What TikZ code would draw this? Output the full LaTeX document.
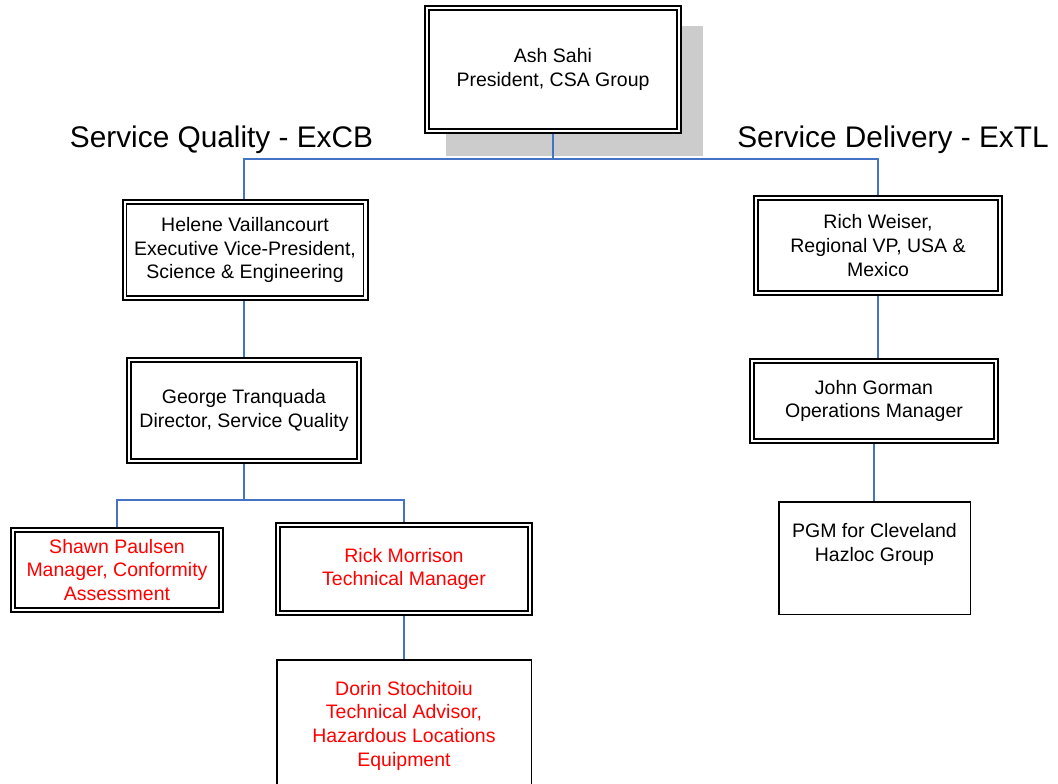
\documentclass[tikz,border=0pt]{standalone}
\usepackage{fontspec}
\setmainfont{Liberation Sans}
\definecolor{conn}{RGB}{68,114,196}
\definecolor{shadowgray}{RGB}{204,204,204}
\definecolor{redtext}{RGB}{255,0,0}
\newcommand{\boxfont}{\fontsize{19.5}{23.7}\selectfont}
\newcommand{\headfont}{\fontsize{29.8}{34}\selectfont}
\begin{document}
\begin{tikzpicture}[x=1pt,y=-1pt,
  dbox/.style={draw=black, line width=2pt, fill=white, align=center, inner sep=0pt, font=\boxfont,
    path picture={\draw[black, line width=1.1pt]
      ([shift={(4pt,-4pt)}]path picture bounding box.north west) rectangle
      ([shift={(-4pt,4pt)}]path picture bounding box.south east);}},
  sbox/.style={draw=black, line width=1.5pt, fill=white, align=center, inner sep=0pt, font=\boxfont},
  conline/.style={draw=conn, line width=1.4pt},
  heading/.style={font=\headfont, anchor=base, inner sep=0pt},
  redt/.style={text=redtext}]
\useasboundingbox (0,0) rectangle (1058,784);
% shadow of the top box
\fill[shadowgray] (446,26) rectangle (703,156);
% nodes
\node[dbox, minimum width=256pt, minimum height=127pt] (ash) at (553,69.5) {Ash Sahi\\President, CSA Group};
\node[dbox, minimum width=245pt, minimum height=100pt] (helene) at (245,250) {Helene Vaillancourt\\Executive Vice-President,\\Science \& Engineering};
\node[dbox, minimum width=234pt, minimum height=105pt] (george) at (244,410.5) {George Tranquada\\Director, Service Quality};
\node[dbox, redt, minimum width=212pt, minimum height=84pt] (shawn) at (117,570) {Shawn Paulsen\\Manager, Conformity\\Assessment};
\node[dbox, redt, minimum width=256pt, minimum height=92pt] (rick) at (404,569) {Rick Morrison\\Technical Manager};
\begin{scope}
\clip (0,0) rectangle (1058,784);
\node[sbox, redt, minimum width=254.5pt, minimum height=129.5pt] (dorin) at (404,724.5) {\strut Dorin Stochitoiu\\Technical Advisor,\\Hazardous Locations\\Equipment};
\end{scope}
\node[dbox, minimum width=248pt, minimum height=99pt] (rich) at (878,245.5) {Rich Weiser,\\Regional VP, USA \&\\Mexico};
\node[dbox, minimum width=248pt, minimum height=84pt] (john) at (874,401) {John Gorman\\Operations Manager};
\node[sbox, minimum width=191.5pt, minimum height=112.5pt] (pgm) at (874.5,558) {PGM for Cleveland\\Hazloc Group\\\strut};
% headings
\node[heading] (hq) at (221.5,147) {Service Quality - ExCB};
\node[heading] (hd) at (893,147) {Service Delivery - ExTL};
% connectors
\coordinate (topbar) at (553,159);
\coordinate (midbar) at (244,500);
\draw[conline] (ash.south) -- (topbar) -| (george.north |- helene.north);
\draw[conline] (topbar) -| (rich.north);
\draw[conline] (george.north |- helene.south) -- (george.north);
\draw[conline] (george.south) -- (midbar) -| (shawn.north);
\draw[conline] (midbar) -| (rick.north);
\draw[conline] (rick.south) -- (dorin.north);
\draw[conline] (rich.south) -- (rich.south |- john.north);
\draw[conline] (john.south) -- (john.south |- pgm.north);
\end{tikzpicture}
\end{document}
